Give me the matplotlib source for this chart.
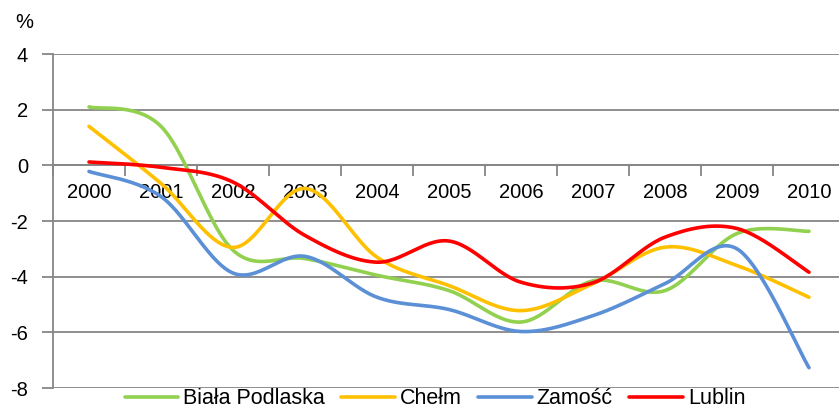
import numpy as np
import matplotlib.pyplot as plt
from matplotlib.ticker import FixedLocator, NullFormatter

plt.rcParams['font.family'] = ['Liberation Sans', 'DejaVu Sans']
plt.rcParams['axes.unicode_minus'] = False

# data (%)
years = ["2000", "2001", "2002", "2003", "2004", "2005", "2006", "2007", "2008", "2009", "2010"]
biala_podlaska = [2.1, 1.4, -3.05, -3.35, -3.95, -4.5, -5.63, -4.15, -4.5, -2.45, -2.37]
chelm = [1.4, -0.65, -2.95, -0.83, -3.3, -4.32, -5.22, -4.25, -2.94, -3.6, -4.74]
zamosc = [-0.22, -1.12, -3.87, -3.27, -4.74, -5.18, -5.97, -5.4, -4.25, -3.0, -7.27]
lublin = [0.12, -0.07, -0.6, -2.52, -3.48, -2.72, -4.2, -4.22, -2.58, -2.27, -3.84]

series = [
    ("Biała Podlaska", biala_podlaska, "#92D050"),
    ("Chełm", chelm, "#FFC000"),
    ("Zamość", zamosc, "#5B8FD6"),
    ("Lublin", lublin, "#FF0000"),
]


def smooth(x, y, n=30):
    # Excel-style smoothed line: cubic Bezier with Catmull-Rom control points
    x = np.asarray(x, float)
    y = np.asarray(y, float)
    px = np.concatenate([[x[0]], x, [x[-1]]])
    py = np.concatenate([[y[0]], y, [y[-1]]])
    t = np.linspace(0, 1, n)
    xs, ys = [], []
    for i in range(1, len(px) - 2):
        p0 = np.array([px[i], py[i]])
        p3 = np.array([px[i + 1], py[i + 1]])
        c1 = p0 + (np.array([px[i + 1], py[i + 1]]) - np.array([px[i - 1], py[i - 1]])) / 6
        c2 = p3 - (np.array([px[i + 2], py[i + 2]]) - p0) / 6
        b = ((1 - t) ** 3)[:, None] * p0 + (3 * (1 - t) ** 2 * t)[:, None] * c1 \
            + (3 * (1 - t) * t ** 2)[:, None] * c2 + (t ** 3)[:, None] * p3
        xs.append(b[:, 0])
        ys.append(b[:, 1])
    return np.concatenate(xs), np.concatenate(ys)


fig = plt.figure(figsize=(8.39, 4.09), dpi=100)
ax = fig.add_axes([53 / 839, 1 - 388 / 409, 792 / 839, 334 / 409])

xpos = np.arange(len(years))
for name, vals, col in series:
    sx, sy = smooth(xpos, vals)
    ax.plot(sx, sy, color=col, lw=2.6, label=name, solid_capstyle="round", zorder=3)

grid_col = "#868686"
ax.set_xlim(-0.5, len(years) - 0.5)
ax.set_ylim(-8, 4)
ax.set_yticks(range(-8, 5, 2))
ax.grid(axis="y", color=grid_col, lw=1.3, zorder=1)
ax.tick_params(axis="y", length=8, width=1.3, color=grid_col, pad=10, labelsize=14.5)

# category axis crosses at 0
ax.spines["bottom"].set_position(("data", 0))
ax.spines["bottom"].set_color(grid_col)
ax.spines["bottom"].set_linewidth(1.3)
ax.spines["left"].set_color(grid_col)
ax.spines["left"].set_linewidth(1.3)
ax.spines["top"].set_visible(False)
ax.spines["right"].set_visible(False)
ax.xaxis.set_major_locator(FixedLocator(np.arange(-0.5, len(years), 1.0)))
ax.xaxis.set_major_formatter(NullFormatter())
ax.xaxis.set_minor_locator(FixedLocator(xpos))
ax.set_xticklabels(years, minor=True)
ax.tick_params(axis="x", which="major", length=8, width=1.3, color=grid_col)
ax.tick_params(axis="x", which="minor", length=0, pad=13, labelsize=14.5)

fig.text(15 / 839, 1 - 22 / 409, "%", fontsize=14.5, ha="left", va="center")

fig.legend(loc="center", bbox_to_anchor=(435 / 839, 1 - 399 / 409), ncol=4,
           frameon=False, fontsize=15.5, handlelength=2.5, handletextpad=0.23,
           columnspacing=0.75, borderpad=0)

fig.savefig("out.png", dpi=100)
